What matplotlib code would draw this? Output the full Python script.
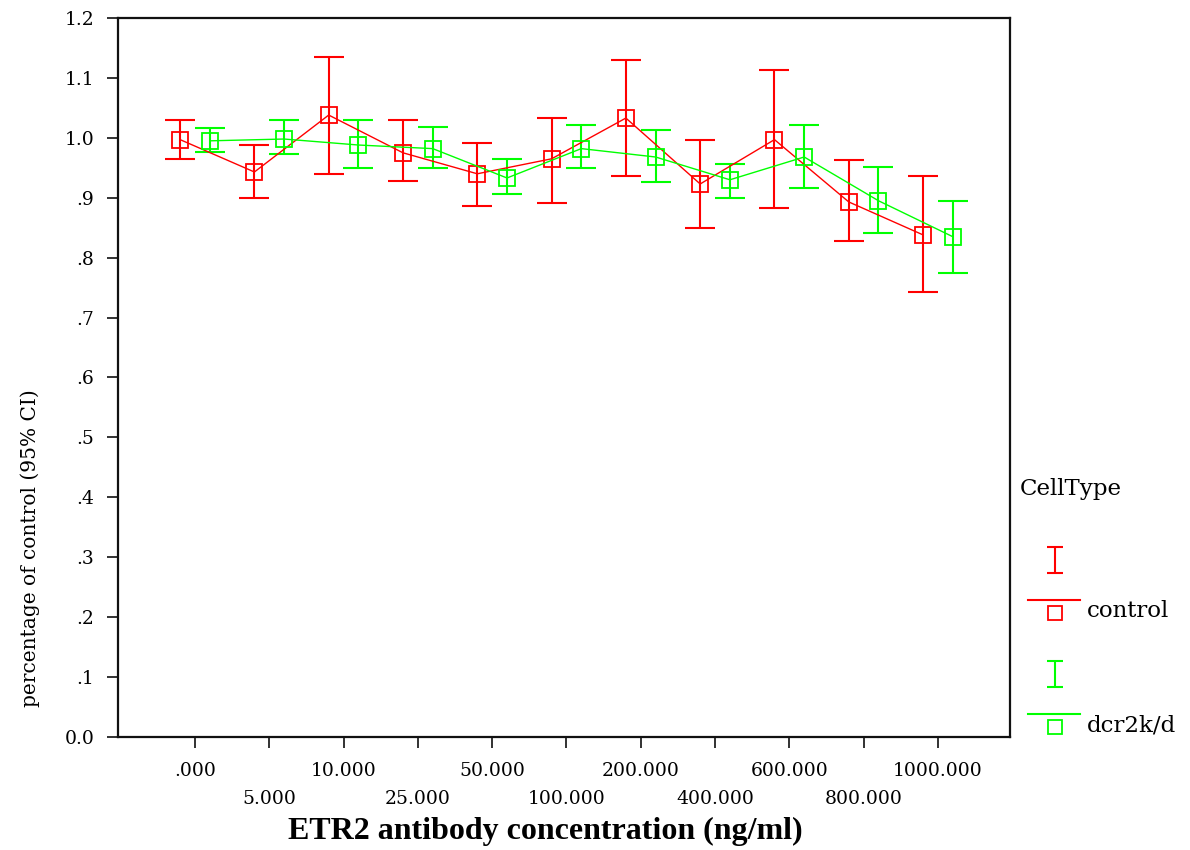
import matplotlib
matplotlib.use("Agg")
import matplotlib.pyplot as plt
import numpy as np

# ---- data ----
categories = [".000", "5.000", "10.000", "25.000", "50.000", "100.000",
              "200.000", "400.000", "600.000", "800.000", "1000.000"]
control_mean = [0.997, 0.943, 1.038, 0.975, 0.940, 0.965, 1.033, 0.923, 0.997, 0.893, 0.838]
control_hi   = [1.030, 0.988, 1.135, 1.030, 0.992, 1.033, 1.130, 0.997, 1.113, 0.963, 0.937]
control_lo   = [0.965, 0.900, 0.940, 0.928, 0.887, 0.892, 0.937, 0.850, 0.883, 0.827, 0.742]
dcr_mean = [0.995, 0.998, 0.988, 0.982, 0.933, 0.982, 0.968, 0.930, 0.968, 0.895, 0.835]
dcr_hi   = [1.017, 1.030, 1.030, 1.018, 0.965, 1.022, 1.013, 0.957, 1.022, 0.952, 0.895]
dcr_lo   = [0.977, 0.973, 0.950, 0.950, 0.907, 0.950, 0.927, 0.900, 0.917, 0.842, 0.775]
yticks = [0.0, 0.1, 0.2, 0.3, 0.4, 0.5, 0.6, 0.7, 0.8, 0.9, 1.0, 1.1, 1.2]
ytick_labels = ["0.0", ".1", ".2", ".3", ".4", ".5", ".6", ".7", ".8", ".9", "1.0", "1.1", "1.2"]
series_names = ["control", "dcr2k/d"]
RED = "#ff0000"
GREEN = "#00ff00"

plt.rcParams['font.family'] = ['DejaVu Serif']

W, H = 1190, 850
fig = plt.figure(figsize=(W / 100, H / 100), dpi=100)
L, R, T, B = 118, 1010, 18, 737
ax = fig.add_axes([L / W, 1 - B / H, (R - L) / W, (B - T) / H])

x = np.arange(len(categories))
off = 0.2

def draw(xpos, mean, lo, hi, color):
    mean = np.array(mean); lo = np.array(lo); hi = np.array(hi)
    ax.errorbar(xpos, mean, yerr=[mean - lo, hi - mean], fmt='none',
                ecolor=color, elinewidth=1.5, capsize=10.5, capthick=1.5, zorder=3)
    ax.plot(xpos, mean, color=color, lw=1.0, marker='s', markersize=11,
            markerfacecolor='none', markeredgecolor=color, markeredgewidth=1.3, zorder=4)

draw(x - off, control_mean, control_lo, control_hi, RED)
draw(x + off, dcr_mean, dcr_lo, dcr_hi, GREEN)

ax.set_xlim(-1.036, 10.97)
ax.set_ylim(0, 1.2)
ax.set_yticks(yticks)
ax.set_yticklabels(ytick_labels)
ax.set_xticks(x)
ax.set_xticklabels([])
ax.tick_params(axis='both', direction='out', length=8, width=1.3, labelsize=13.5,
               color='#222222')
ax.tick_params(axis='y', pad=9)
for s in ax.spines.values():
    s.set_linewidth(1.6)
    s.set_color('#111111')

# staggered category labels (two rows)
axh = B - T
row_y = [-(771 - B) / axh, -(799 - B) / axh]
for i, c in enumerate(categories):
    ax.text(x[i], row_y[i % 2], c, transform=ax.get_xaxis_transform(),
            ha='center', va='center', fontsize=13.5)

fig.text(30 / W, 1 - 548 / H, "percentage of control (95% CI)", rotation=90,
         ha='center', va='center', fontsize=14.5)
fig.text(545 / W, 1 - 831 / H, "ETR2 antibody concentration (ng/ml)",
         ha='center', va='center', fontsize=23, fontweight='bold',
         family=['Liberation Serif'])

# ---- legend (drawn in pixel overlay) ----
lg = fig.add_axes([0, 0, 1, 1], facecolor='none')
lg.set_xlim(0, W); lg.set_ylim(H, 0); lg.axis('off')
lg.text(1020, 489, "CellType", ha='left', va='center', fontsize=16.5)
for name, color, y0 in [(series_names[0], RED, 547), (series_names[1], GREEN, 661)]:
    lg.errorbar([1055], [y0 + 13], yerr=[[13], [13]], fmt='none', ecolor=color,
                elinewidth=1.5, capsize=6, capthick=1.5)
    lg.plot([1028, 1080], [y0 + 53, y0 + 53], color=color, lw=1.5)
    lg.plot([1055], [y0 + 66], marker='s', markersize=10, markerfacecolor='none',
            markeredgecolor=color, markeredgewidth=1.3)
    lg.text(1087, y0 + 64, name, ha='left', va='center', fontsize=16.5)

fig.savefig("out.png", dpi=100, facecolor='white')
